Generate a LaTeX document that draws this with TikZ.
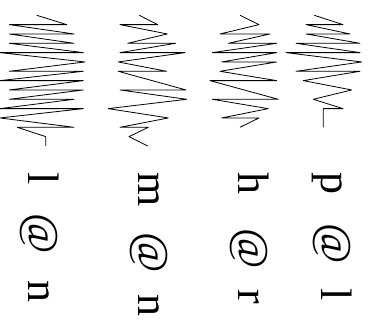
\documentclass[tikz,border=0pt]{standalone}
\usepackage{fontspec}
\setmainfont{Liberation Serif}
\tikzset{
  wave/.style={draw=black, line width=0.8pt, line join=round},
  lab/.style={rotate=-90, anchor=base west, inner sep=0pt, font=\fontsize{44}{44}\selectfont}
}
\begin{document}
\begin{tikzpicture}
\useasboundingbox (0,0) rectangle (370pt,-320pt);
\begin{scope}[x=1pt, y=-9.333pt, yshift=-15.3pt]
% column 1
\draw[wave] (36.7,0) -- (66.7,1) -- (9.3,1) -- (74,2) -- (9.3,2) -- (74,3) -- (9.3,3)
  -- (83.3,4) -- (0,4) -- (85,5) -- (9.3,6) -- (83.3,6) -- (0,7) -- (83.3,7)
  -- (9.3,8) -- (83.3,8) -- (9.3,9) -- (74,9) -- (0,10) -- (83.3,10) -- (0,11)
  -- (74,12) -- (17.3,12) -- (45.7,13) -- (45.7,14);
% column 2
\draw[wave] (139.3,0) -- (157.7,1) -- (120,1) -- (167.3,2) -- (127.7,3) -- (175.7,3)
  -- (120,4) -- (185,4) -- (118.3,5) -- (166.7,6) -- (118.3,6) -- (186,8) -- (120,8)
  -- (186.7,9) -- (108.3,10) -- (168.3,11) -- (120,12) -- (148.3,12) -- (129,13) -- (147.7,14);
% column 3
\draw[wave] (240,0) -- (259,1) -- (220,2) -- (270,2) -- (228.3,3) -- (276.7,3)
  -- (212.3,4) -- (276.7,4) -- (221.7,5) -- (276.7,5) -- (220,6) -- (276.7,7)
  -- (210,7) -- (278.3,9) -- (212.3,9) -- (268.3,10) -- (221.7,11) -- (259,11) -- (240,12);
% column 4
\draw[wave] (314.3,0) -- (343,1) -- (306,1) -- (350,2) -- (306,2) -- (360,3) -- (296,3)
  -- (360,4) -- (286,4) -- (361.7,5) -- (296,6) -- (360,6) -- (303.3,7) -- (351.7,8)
  -- (313.3,9) -- (343,10) -- (323.3,10) -- (323.3,12);
\end{scope}
\node[lab] (l1) at (28.3pt,-172pt) {l\kern17.7pt{} @\kern15.9pt{} n};
\node[lab] (l2) at (138.3pt,-172pt) {m\kern15.2pt{} @\kern10.4pt{} n};
\node[lab] (l3) at (238.3pt,-172pt) {h\kern22.9pt{} @\kern9.4pt{} r};
\node[lab] (l4) at (321.7pt,-172pt) {p\kern17.9pt{} @\kern13.8pt{} l};
\end{tikzpicture}
\end{document}
